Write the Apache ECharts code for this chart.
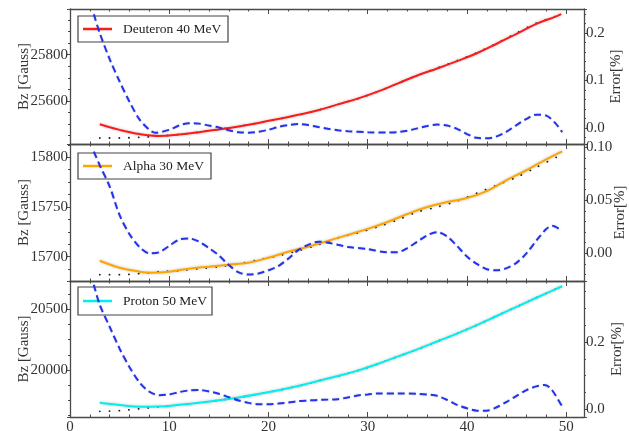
<!DOCTYPE html>
<html><head><meta charset="utf-8">
<script src="https://cdn.jsdelivr.net/npm/echarts@6/dist/echarts.min.js"></script>
<style>html,body{margin:0;padding:0;background:#fff}#c{width:629px;height:431px}</style>
</head><body><div id="c"></div>
<script>
// ---- data ----
const xTickLabels = [0, 10, 20, 30, 40, 50];
const panelNames = ['Deuteron 40 MeV', 'Alpha 30 MeV', 'Proton 50 MeV'];
const panelColors = ['#ff1a1a', '#ffa500', '#00f0f0'];

// Deuteron 40 MeV
const deutX  = [3, 5, 7, 9, 11, 13, 15, 17, 19, 21, 23, 25, 27, 29, 31, 33, 35, 37, 39, 41, 43, 45, 47, 49, 49.5];
const deutBz = [25499, 25475, 25457, 25449, 25455, 25465, 25477, 25490, 25505, 25522, 25540, 25560, 25585, 25610, 25640, 25675, 25710, 25740, 25772, 25806, 25847, 25890, 25933, 25965, 25975];
const deutMeasX  = [3, 5, 7, 9, 11, 13, 15, 17, 19, 21, 23, 25, 27, 29, 31, 33, 35, 37, 39, 41, 43, 45, 47, 49];
const deutMeasBz = [25440, 25440, 25443, 25448, 25455, 25465, 25477, 25490, 25505, 25522, 25540, 25560, 25585, 25610, 25640, 25675, 25710, 25742, 25774, 25808, 25849, 25893, 25936, 25966];
const deutErrX = [2.4, 3, 4, 5, 6, 7, 8, 8.6, 10, 11, 12, 13, 14, 15, 16, 17, 18, 19, 20, 21, 22, 23, 24, 25, 26, 27, 28, 30, 32, 33, 34, 35, 36, 37, 38, 39, 40, 41, 42, 43, 44, 45, 46, 47, 48, 49, 49.6];
const deutErr  = [0.24, 0.20, 0.145, 0.098, 0.055, 0.018, -0.004, -0.010, -0.004, 0.005, 0.010, 0.009, 0.005, 0.001, -0.005, -0.009, -0.010, -0.008, -0.004, 0.002, 0.006, 0.008, 0.006, 0.002, -0.002, -0.005, -0.007, -0.009, -0.010, -0.009, -0.006, -0.001, 0.004, 0.007, 0.005, -0.002, -0.013, -0.021, -0.022, -0.018, -0.008, 0.006, 0.019, 0.028, 0.026, 0.008, -0.009];

// Alpha 30 MeV
const alphaX  = [3, 5, 7, 8, 10, 12, 14, 16, 18, 20, 22, 24, 26, 28, 30, 32, 34, 36, 38, 40, 42, 44, 46, 48, 49.6];
const alphaBz = [15696, 15689, 15685, 15684, 15685, 15688, 15690, 15692, 15694, 15699, 15705, 15710, 15716, 15722, 15728, 15735, 15743, 15750, 15755, 15759, 15766, 15777, 15787, 15798, 15806];
const alphaMeasX  = [3, 5, 7, 9, 11, 13, 15, 17, 19, 21, 23, 25, 27, 29, 31, 33, 35, 37, 39, 41, 43, 45, 47, 49];
const alphaMeasBz = [15682, 15682, 15683, 15685, 15686, 15688, 15690, 15693, 15697, 15701, 15706, 15712, 15719, 15724, 15730, 15737, 15745, 15750, 15756, 15764, 15772, 15780, 15790, 15800];
const alphaErrX = [2.4, 3, 4, 5, 6, 7, 8, 9, 10, 11, 12, 13, 14, 15, 16, 17, 18, 19, 20, 21, 22, 23, 24, 25, 26, 27, 28, 30, 32, 33, 34, 35, 36, 37, 38, 39, 40, 41, 42, 43, 44, 45, 46, 47, 48, 48.6, 49.6];
const alphaErr  = [0.096, 0.083, 0.063, 0.036, 0.018, 0.006, 0.000, 0.001, 0.007, 0.013, 0.014, 0.011, 0.005, -0.002, -0.011, -0.018, -0.020, -0.019, -0.016, -0.012, -0.005, 0.003, 0.008, 0.011, 0.010, 0.008, 0.006, 0.004, 0.001, 0.001, 0.005, 0.011, 0.017, 0.020, 0.016, 0.007, -0.003, -0.010, -0.015, -0.016, -0.014, -0.009, 0.000, 0.012, 0.023, 0.026, 0.021];

// Proton 50 MeV
const protX  = [3, 5, 7, 9, 11, 13, 15, 17, 19, 21, 23, 25, 27, 29, 31, 33, 35, 37, 39, 41, 43, 45, 47, 49, 49.6];
const protBz = [19731, 19712, 19698, 19700, 19713, 19730, 19750, 19774, 19802, 19833, 19868, 19910, 19950, 19995, 20050, 20110, 20170, 20235, 20300, 20370, 20445, 20520, 20595, 20668, 20690];
const protMeasX  = [3, 5, 7, 9, 11, 13, 15, 17, 19, 21, 23, 25, 27, 29, 31, 33, 35, 37, 39, 41, 43, 45, 47, 49];
const protMeasBz = [19660, 19665, 19680, 19697, 19713, 19730, 19750, 19774, 19802, 19833, 19868, 19910, 19950, 19995, 20050, 20110, 20170, 20235, 20300, 20370, 20445, 20520, 20595, 20668];
const protErrX = [2.4, 3, 4, 5, 6, 7, 8, 9, 10, 11, 12, 13, 14, 15, 16, 17, 18, 19, 20, 21, 22, 23, 24, 25, 26, 27, 28, 29, 30, 31, 33, 35, 36, 37, 38, 39, 40, 41, 42, 43, 44, 45, 46, 47, 47.8, 48.5, 49.6];
const protErr  = [0.37, 0.31, 0.245, 0.18, 0.125, 0.08, 0.052, 0.042, 0.044, 0.051, 0.056, 0.057, 0.053, 0.046, 0.036, 0.026, 0.019, 0.015, 0.015, 0.017, 0.020, 0.024, 0.026, 0.028, 0.029, 0.030, 0.035, 0.041, 0.044, 0.047, 0.047, 0.046, 0.044, 0.040, 0.028, 0.013, 0.003, -0.004, -0.004, 0.006, 0.022, 0.040, 0.057, 0.068, 0.072, 0.060, 0.008];

// axis ranges
const xMin = 0, xMax = 51.8, xStep = 10;
const leftRanges  = [[25414, 25997, 200], [15675.6, 15813.4, 50], [19613, 20733, 500]];
const rightRanges = [[-0.034, 0.251, 0.1], [-0.0261, 0.1031, 0.05], [-0.0229, 0.381, 0.2]];
const rightDigits = [1, 2, 1];

// ---- chart ----
const FONT = 'Liberation Serif';
const TXT = '#333';
const AX = '#4a4a4a';
const gridTops = [9, 144, 281];
const gridH = [135, 137, 136];
const rightNameGaps = [25, 29, 26];
// legend box layout (style only)
const legBox = [{y: 16, w: 150, h: 26}, {y: 153, w: 133, h: 26}, {y: 287, w: 134, h: 28}];

const zip = (xs, ys) => xs.map((x, i) => [x, ys[i]]);
const curves = [
  {bz: zip(deutX, deutBz), meas: zip(deutMeasX, deutMeasBz), err: zip(deutErrX, deutErr)},
  {bz: zip(alphaX, alphaBz), meas: zip(alphaMeasX, alphaMeasBz), err: zip(alphaErrX, alphaErr)},
  {bz: zip(protX, protBz), meas: zip(protMeasX, protMeasBz), err: zip(protErrX, protErr)}
];

const grids = [], xAxes = [], yAxes = [], series = [], graphics = [];
for (let i = 0; i < 3; i++) {
  grids.push({left: 70, width: 514, top: gridTops[i], height: gridH[i], containLabel: false, outerBoundsMode: 'none'});
}
for (let i = 0; i < 3; i++) {
  xAxes.push({
    type: 'value', gridIndex: i, position: 'bottom', min: xMin, max: xMax,
    minInterval: xStep, maxInterval: xStep,
    axisLine: {show: true, onZero: false, lineStyle: {color: AX, width: 1.3}},
    axisTick: {show: true, inside: true, length: 5, lineStyle: {color: AX}},
    minorTick: {show: true, splitNumber: 5, length: 2.5, lineStyle: {color: AX}},
    splitLine: {show: false},
    axisLabel: {show: i === 2, showMaxLabel: false, color: TXT, fontFamily: FONT, fontSize: 15, margin: 3,
      formatter: v => (xTickLabels.indexOf(v) >= 0 ? String(v) : '')}
  });
}
for (let i = 0; i < 3; i++) {
  xAxes.push({
    type: 'value', gridIndex: i, position: 'top', min: xMin, max: xMax,
    minInterval: xStep, maxInterval: xStep,
    axisLine: {show: true, onZero: false, lineStyle: {color: AX, width: 1.3}},
    axisTick: {show: true, inside: true, length: 5, lineStyle: {color: AX}},
    minorTick: {show: true, splitNumber: 5, length: 2.5, lineStyle: {color: AX}},
    splitLine: {show: false}, axisLabel: {show: false}
  });
}
for (let i = 0; i < 3; i++) {
  const [mn, mx, st] = leftRanges[i];
  yAxes.push({
    type: 'value', gridIndex: i, position: 'left', min: mn, max: mx,
    minInterval: st, maxInterval: st,
    name: 'Bz [Gauss]', nameLocation: 'middle', nameGap: 38, nameRotate: 90, nameMoveOverlap: false,
    nameTextStyle: {color: TXT, fontFamily: FONT, fontSize: 15},
    axisLine: {show: true, onZero: false, lineStyle: {color: AX, width: 1.3}},
    axisTick: {show: true, inside: false, length: 3, lineStyle: {color: AX}},
    minorTick: {show: true, splitNumber: 4, length: 2, lineStyle: {color: AX}},
    splitLine: {show: false},
    axisLabel: {showMinLabel: false, showMaxLabel: false, color: TXT, fontFamily: FONT, fontSize: 15, margin: 2,
      formatter: v => (Math.abs(v / st - Math.round(v / st)) < 1e-6 ? String(Math.round(v)) : '')}
  });
}
for (let i = 0; i < 3; i++) {
  const [mn, mx, st] = rightRanges[i];
  yAxes.push({
    type: 'value', gridIndex: i, position: 'right', min: mn, max: mx,
    minInterval: st, maxInterval: st,
    name: 'Error[%]', nameLocation: 'middle', nameGap: rightNameGaps[i], nameRotate: 90, nameMoveOverlap: false,
    nameTextStyle: {color: TXT, fontFamily: FONT, fontSize: 15},
    axisLine: {show: true, onZero: false, lineStyle: {color: AX, width: 1.3}},
    axisTick: {show: true, inside: false, length: 3, lineStyle: {color: AX}},
    minorTick: {show: true, splitNumber: i === 2 ? 4 : 5, length: 2, lineStyle: {color: AX}},
    splitLine: {show: false},
    axisLabel: {showMinLabel: false, showMaxLabel: false, color: TXT, fontFamily: FONT, fontSize: 15, margin: 2,
      formatter: v => (Math.abs(v / st - Math.round(v / st)) < 1e-6 ? (Math.round(v / st) * st).toFixed(rightDigits[i]) : '')}
  });
}
for (let i = 0; i < 3; i++) {
  const c = curves[i];
  series.push({
    name: 'meas' + i, type: 'line', xAxisIndex: i, yAxisIndex: i, data: c.meas,
    smooth: 0.3, symbol: 'none', silent: true, z: 2,
    lineStyle: {color: '#222', width: 1.8, type: [0.2, 9.5], cap: 'round'}
  });
  series.push({
    name: panelNames[i], type: 'line', xAxisIndex: i, yAxisIndex: i, data: c.bz,
    smooth: 0.4, symbol: 'none', showSymbol: false, silent: true, z: 3, color: panelColors[i],
    lineStyle: {color: panelColors[i], width: 2, shadowBlur: 3, shadowColor: 'rgba(0,0,0,0.25)'}
  });
  series.push({
    name: 'err' + i, type: 'line', xAxisIndex: i, yAxisIndex: 3 + i, data: c.err,
    smooth: 0.3, symbol: 'none', silent: true, z: 4,
    lineStyle: {color: '#2233ee', width: 2, type: [7, 4], shadowBlur: 2, shadowColor: 'rgba(0,0,0,0.2)'}
  });
  // legend box drawn as graphic (key line + label)
  const b = legBox[i];
  const cy = b.y + b.h / 2;
  graphics.push({
    type: 'group', silent: true, z: 10,
    children: [
      {type: 'rect', shape: {x: 78, y: b.y, width: b.w, height: b.h},
       style: {fill: 'rgba(255,255,255,0)', stroke: '#444', lineWidth: 1.2}},
      {type: 'line', shape: {x1: 83, y1: cy, x2: 112, y2: cy},
       style: {stroke: panelColors[i], lineWidth: 2.5}},
      {type: 'text', x: 123, y: cy,
       style: {text: panelNames[i], fill: '#222', font: '13.5px "Liberation Serif"', verticalAlign: 'middle', align: 'left'}}
    ]
  });
}

const chart = echarts.init(document.getElementById('c'), null, {renderer: 'canvas'});
chart.setOption({
  animation: false, backgroundColor: '#fff',
  grid: grids, xAxis: xAxes, yAxis: yAxes, series: series, graphic: graphics
});
</script></body></html>
